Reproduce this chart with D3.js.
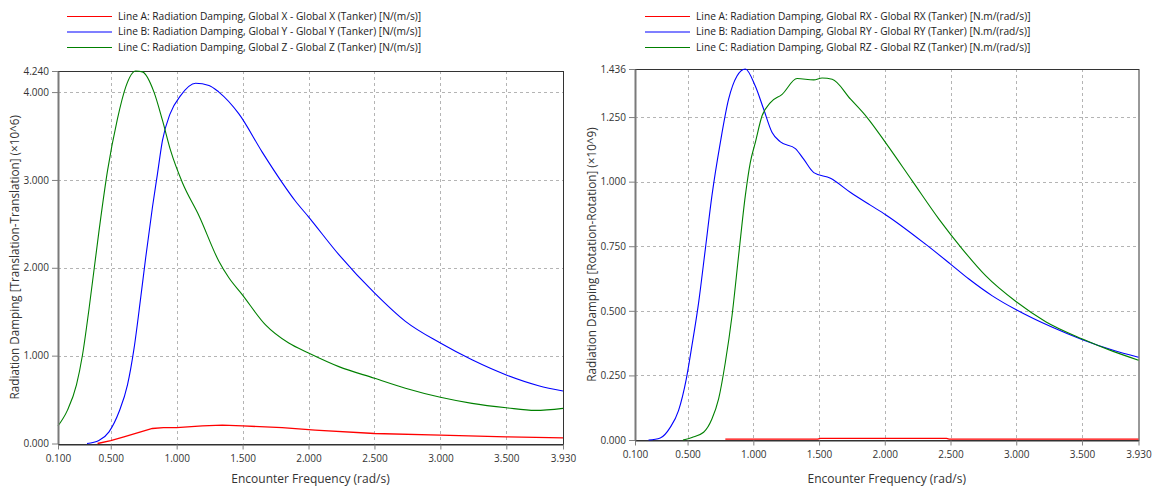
<!DOCTYPE html>
<html>
<head>
<meta charset="utf-8">
<script src="https://cdn.jsdelivr.net/npm/d3@7"></script>
<style>
  html, body { margin: 0; padding: 0; background: #fff; }
  svg { display: block; font-family: "Open Sans", "Noto Sans", sans-serif; }
</style>
</head>
<body>
<svg id="chart" width="1153" height="488"></svg>
<script>
// ---------- DATA ----------
const xTicks = [0.1, 0.5, 1.0, 1.5, 2.0, 2.5, 3.0, 3.5, 3.93];
const xTitle = "Encounter Frequency (rad/s)";

// Left panel: translation-translation (x10^6)
const leftYTicks = [0, 1, 2, 3, 4, 4.24];
const leftYTitle = "Radiation Damping [Translation-Translation] (×10^6)";
const leftLegend = [
  "Line A: Radiation Damping, Global X - Global X (Tanker) [N/(m/s)]",
  "Line B: Radiation Damping, Global Y - Global Y (Tanker) [N/(m/s)]",
  "Line C: Radiation Damping, Global Z - Global Z (Tanker) [N/(m/s)]"
];
const leftA = [[0.40,0],[0.5,0.034],[0.6,0.075],[0.689,0.114],[0.816,0.171],[0.9,0.18],[1.0,0.18],[1.195,0.20],[1.346,0.21],[1.5,0.20],[1.8,0.18],[2.05,0.152],[2.5,0.114],[3.0,0.095],[3.5,0.076],[3.93,0.064]];
const leftB = [[0.32,0],[0.41,0.034],[0.487,0.133],[0.563,0.361],[0.627,0.666],[0.677,1.085],[0.727,1.657],[0.765,2.114],[0.816,2.686],[0.854,3.066],[0.892,3.447],[0.95,3.752],[1.03,3.96],[1.144,4.10],[1.245,4.076],[1.32,4.0],[1.472,3.752],[1.65,3.314],[1.80,2.97],[1.9,2.76],[2.0,2.58],[2.23,2.15],[2.5,1.714],[2.735,1.39],[3.0,1.143],[3.24,0.952],[3.5,0.78],[3.745,0.658],[3.93,0.598]];
const leftC = [[0.1,0.2],[0.172,0.38],[0.24,0.667],[0.286,1.01],[0.336,1.54],[0.411,2.42],[0.475,3.10],[0.55,3.69],[0.614,4.06],[0.689,4.24],[0.74,4.23],[0.828,4.0],[0.892,3.68],[0.955,3.33],[1.043,2.97],[1.17,2.59],[1.32,2.075],[1.396,1.886],[1.497,1.695],[1.674,1.35],[1.85,1.143],[2.0,1.03],[2.23,0.875],[2.5,0.743],[2.735,0.629],[3.0,0.526],[3.24,0.457],[3.5,0.407],[3.72,0.377],[3.93,0.40]];

// Right panel: rotation-rotation (x10^9)
const rightYTicks = [0, 0.25, 0.5, 0.75, 1.0, 1.25, 1.436];
const rightYTitle = "Radiation Damping [Rotation-Rotation] (×10^9)";
const rightLegend = [
  "Line A: Radiation Damping, Global RX - Global RX (Tanker) [N.m/(rad/s)]",
  "Line B: Radiation Damping, Global RY - Global RY (Tanker) [N.m/(rad/s)]",
  "Line C: Radiation Damping, Global RZ - Global RZ (Tanker) [N.m/(rad/s)]"
];
const rightA = [[0.787,0.0035],[1.49,0.0035],[1.51,0.0065],[2.47,0.0065],[2.49,0.0035],[3.93,0.0035]];
const rightB = [[0.203,0],[0.292,0.008],[0.368,0.049],[0.431,0.114],[0.49,0.236],[0.533,0.365],[0.584,0.532],[0.635,0.739],[0.685,0.945],[0.749,1.151],[0.812,1.319],[0.876,1.409],[0.939,1.436],[1.015,1.37],[1.079,1.28],[1.143,1.19],[1.206,1.154],[1.32,1.128],[1.383,1.087],[1.46,1.035],[1.587,1.013],[1.74,0.958],[1.89,0.909],[2.006,0.872],[2.31,0.758],[2.5,0.681],[2.64,0.623],[2.818,0.558],[3.0,0.504],[3.275,0.436],[3.504,0.388],[3.732,0.348],[3.93,0.32]];
const rightC = [[0.465,0],[0.533,0.01],[0.622,0.03],[0.685,0.081],[0.736,0.159],[0.787,0.30],[0.838,0.481],[0.888,0.713],[0.939,0.945],[0.977,1.074],[1.015,1.151],[1.066,1.254],[1.13,1.306],[1.219,1.338],[1.333,1.399],[1.46,1.394],[1.523,1.401],[1.6,1.396],[1.74,1.319],[1.866,1.248],[2.006,1.151],[2.209,1.003],[2.412,0.855],[2.59,0.739],[2.767,0.636],[3.0,0.535],[3.224,0.458],[3.504,0.391],[3.732,0.344],[3.93,0.309]];

// ---------- STYLE / LAYOUT ----------
const seriesColors = ["#ff0000", "#0000ff", "#008000"];
const legendColors = ["#ff0000", "#7f7fff", "#008000"];
const legendWidths = [1, 2, 1];

const panels = [
  { x0: 58, x1: 563, y0: 443.5, y1: 71, yMax: 4.24, yTicks: leftYTicks, yTitle: leftYTitle,
    titleX: 15, legend: leftLegend, legX: 67, series: [leftA, leftB, leftC] },
  { x0: 635, x1: 1138.5, y0: 440, y1: 69, yMax: 1.436, yTicks: rightYTicks, yTitle: rightYTitle,
    titleX: 592, legend: rightLegend, legX: 645, series: [rightA, rightB, rightC] }
];

const svg = d3.select("#chart");

panels.forEach(p => {
  const x = d3.scaleLinear().domain([0.1, 3.93]).range([p.x0, p.x1]);
  const y = d3.scaleLinear().domain([0, p.yMax]).range([p.y0, p.y1]);
  const g = svg.append("g");

  // gridlines
  g.append("g").selectAll("line").data(xTicks.slice(1, -1)).join("line")
    .attr("x1", d => Math.round(x(d)) + 0.5).attr("x2", d => Math.round(x(d)) + 0.5)
    .attr("y1", p.y1).attr("y2", p.y0)
    .attr("stroke", "#b4b4b4").attr("stroke-dasharray", "3,3");
  g.append("g").selectAll("line").data(p.yTicks.slice(1, -1)).join("line")
    .attr("x1", p.x0).attr("x2", p.x1)
    .attr("y1", d => Math.round(y(d)) + 0.5).attr("y2", d => Math.round(y(d)) + 0.5)
    .attr("stroke", "#b4b4b4").attr("stroke-dasharray", "3,3");

  // plot box
  g.append("rect")
    .attr("x", p.x0 + 0.5).attr("y", Math.round(p.y1) + 0.5)
    .attr("width", p.x1 - p.x0).attr("height", Math.round(p.y0) - Math.round(p.y1))
    .attr("fill", "none").attr("stroke", "#333").attr("stroke-width", 1);

  // x axis
  const xAxis = d3.axisBottom(x).tickValues(xTicks).tickFormat(d3.format(".3f")).tickSize(5).tickSizeOuter(0);
  const gx = g.append("g").attr("transform", `translate(0,${Math.round(p.y0) + 0.5})`).call(xAxis);
  gx.select(".domain").attr("stroke", "#333");
  gx.selectAll(".tick line").attr("stroke", "#808080");
  gx.selectAll(".tick text").attr("font-size", 10).attr("fill", "#333").attr("dy", "0.9em").attr("font-family", "Open Sans");

  // series lines (drawn over the x axis like the reference)
  const line = d3.line().x(d => x(d[0])).y(d => y(d[1]));
  p.series.forEach((s, i) => {
    g.append("path").datum(s)
      .attr("d", i === 0 ? line.curve(d3.curveLinear)(s) : line.curve(d3.curveMonotoneX)(s))
      .attr("fill", "none").attr("stroke", seriesColors[i]).attr("stroke-width", i === 0 ? 1.3 : 1.1);
  });

  // y axis
  const yAxis = d3.axisLeft(y).tickValues(p.yTicks).tickFormat(d3.format(".3f")).tickSize(6).tickSizeOuter(0);
  const gy = g.append("g").attr("transform", `translate(${p.x0},0)`).call(yAxis);
  gy.select(".domain").attr("stroke", "#7a7a7a").attr("stroke-width", 2);
  gy.selectAll(".tick line").attr("stroke", "#808080");
  gy.selectAll(".tick text").attr("font-size", 10).attr("fill", "#333").attr("x", -9).attr("font-family", "Open Sans");

  // titles
  g.append("text").attr("x", (p.x0 + p.x1) / 2).attr("y", 483)
    .attr("text-anchor", "middle").attr("font-size", 12).attr("fill", "#333").text(xTitle);
  g.append("text").attr("transform", `translate(${p.titleX},${(p.y0 + p.y1) / 2}) rotate(-90)`)
    .attr("text-anchor", "middle").attr("dy", "0.35em").attr("font-size", 11.7).attr("fill", "#333").text(p.yTitle);

  // legend
  const rowsY = [16.5, 31.5, 47.5];
  const lg = g.append("g");
  p.legend.forEach((t, i) => {
    lg.append("line").attr("x1", p.legX).attr("x2", p.legX + 45)
      .attr("y1", rowsY[i] + (legendWidths[i] === 2 ? 0.5 : 0)).attr("y2", rowsY[i] + (legendWidths[i] === 2 ? 0.5 : 0))
      .attr("stroke", legendColors[i]).attr("stroke-width", legendWidths[i]);
    lg.append("text").attr("x", p.legX + 51).attr("y", rowsY[i]).attr("dy", "0.35em")
      .attr("font-size", 10.2).attr("fill", "#222").text(t);
  });
});
</script>
</body>
</html>
